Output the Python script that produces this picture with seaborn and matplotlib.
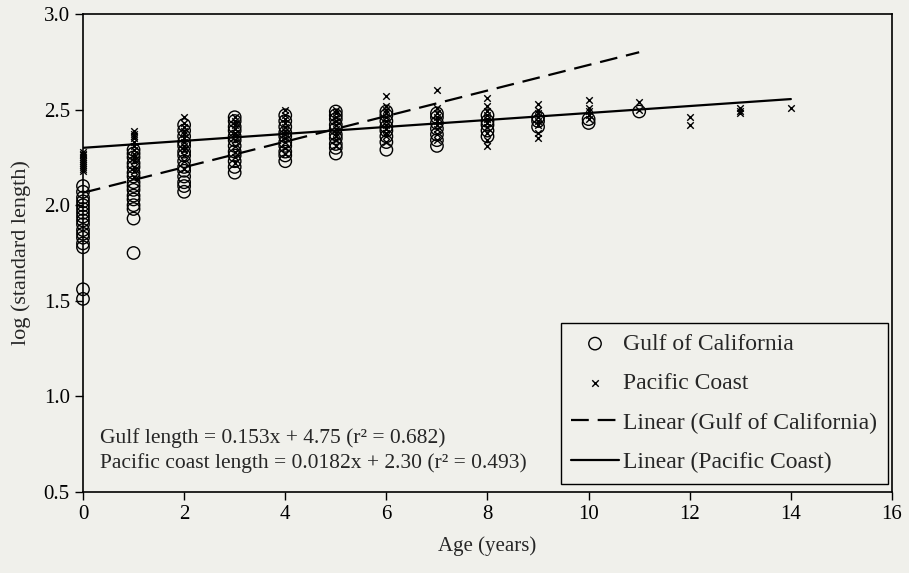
import pandas as pd
import matplotlib
matplotlib.use('Agg')
import matplotlib.pyplot as plt
import seaborn as sns

# log(standard length) by age
gulf_ages = [0, 1, 2, 3, 4, 5, 6, 7, 8, 9, 10, 11]
gulf_logsl = [
    [1.51, 1.56, 1.78, 1.80, 1.83, 1.85, 1.87, 1.90, 1.92, 1.94, 1.96, 1.98, 2.00, 2.02, 2.04, 2.07, 2.10],
    [1.75, 1.93, 1.98, 2.00, 2.03, 2.05, 2.08, 2.10, 2.12, 2.15, 2.17, 2.20, 2.22, 2.25, 2.27, 2.29],
    [2.07, 2.10, 2.12, 2.15, 2.18, 2.20, 2.23, 2.26, 2.28, 2.31, 2.33, 2.36, 2.39, 2.42],
    [2.17, 2.20, 2.23, 2.26, 2.28, 2.31, 2.34, 2.36, 2.39, 2.41, 2.44, 2.46],
    [2.23, 2.26, 2.28, 2.31, 2.33, 2.36, 2.38, 2.41, 2.44, 2.47],
    [2.27, 2.30, 2.32, 2.35, 2.37, 2.40, 2.42, 2.45, 2.47, 2.49],
    [2.29, 2.33, 2.36, 2.39, 2.41, 2.44, 2.47, 2.49],
    [2.31, 2.34, 2.37, 2.40, 2.43, 2.46, 2.48],
    [2.36, 2.39, 2.42, 2.44, 2.47],
    [2.41, 2.44, 2.46],
    [2.43, 2.45],
    [2.49],
]

pacific_ages = [0, 1, 2, 3, 4, 5, 6, 7, 8, 9, 10, 11, 12, 13, 14]
pacific_logsl = [
    [2.18, 2.19, 2.20, 2.21, 2.22, 2.23, 2.24, 2.25, 2.26, 2.27, 2.28],
    [2.15, 2.18, 2.20, 2.23, 2.25, 2.27, 2.29, 2.31, 2.33, 2.35, 2.36, 2.37, 2.39],
    [2.19, 2.23, 2.26, 2.29, 2.31, 2.33, 2.35, 2.37, 2.39, 2.41, 2.43, 2.46],
    [2.22, 2.25, 2.28, 2.31, 2.34, 2.36, 2.38, 2.40, 2.42, 2.44, 2.46],
    [2.27, 2.30, 2.33, 2.35, 2.37, 2.39, 2.41, 2.43, 2.45, 2.47, 2.50],
    [2.31, 2.34, 2.36, 2.38, 2.40, 2.42, 2.44, 2.46, 2.48, 2.50],
    [2.33, 2.36, 2.38, 2.40, 2.42, 2.44, 2.46, 2.48, 2.50, 2.52, 2.57],
    [2.34, 2.37, 2.40, 2.42, 2.44, 2.46, 2.48, 2.51, 2.60],
    [2.31, 2.34, 2.38, 2.41, 2.43, 2.45, 2.47, 2.49, 2.52, 2.56],
    [2.35, 2.38, 2.42, 2.44, 2.46, 2.48, 2.50, 2.53],
    [2.45, 2.47, 2.49, 2.51, 2.55],
    [2.50, 2.54],
    [2.42, 2.46],
    [2.48, 2.49, 2.51],
    [2.51],
]

# trend lines as drawn in the figure (end points)
gulf_fit_age = [0, 11]
gulf_fit_logsl = [2.065, 2.80]
pacific_fit_age = [0, 14]
pacific_fit_logsl = [2.30, 2.555]

eq_lines = ["Gulf length = 0.153x + 4.75 (r² = 0.682)",
            "Pacific coast length = 0.0182x + 2.30 (r² = 0.493)"]

gulf = pd.DataFrame([(a, v) for a, vals in zip(gulf_ages, gulf_logsl) for v in vals],
                    columns=['age', 'logsl'])
pacific = pd.DataFrame([(a, v) for a, vals in zip(pacific_ages, pacific_logsl) for v in vals],
                       columns=['age', 'logsl'])

bg = '#f0f0eb'
sns.set_style('ticks')
plt.rcParams['font.family'] = ['Liberation Serif', 'DejaVu Serif']

fig = plt.figure(figsize=(9.09, 5.73), dpi=100, facecolor=bg)
ax = fig.add_axes([0.0913, 0.1414, 0.8900, 0.8342])
ax.set_facecolor(bg)

sns.scatterplot(data=gulf, x='age', y='logsl', marker='o', s=80, facecolor='none',
                edgecolor='black', linewidth=1.0, label='Gulf of California',
                clip_on=False, zorder=3, ax=ax)
sns.scatterplot(data=pacific, x='age', y='logsl', marker='x', s=22, color='black',
                linewidth=1.0, label='Pacific Coast', clip_on=False, zorder=3, ax=ax)
sns.lineplot(x=gulf_fit_age, y=gulf_fit_logsl, color='black', lw=1.6,
             linestyle=(0, (8, 4)), label='Linear (Gulf of California)', ax=ax)
sns.lineplot(x=pacific_fit_age, y=pacific_fit_logsl, color='black', lw=1.6,
             label='Linear (Pacific Coast)', ax=ax)

ax.set_xlim(0, 16)
ax.set_ylim(0.5, 3.0)
ax.set_xticks(range(0, 17, 2))
ax.set_yticks([0.5, 1.0, 1.5, 2.0, 2.5, 3.0])
ax.set_yticklabels(['0.5', '1.0', '1.5', '2.0', '2.5', '3.0'])
ax.tick_params(direction='out', length=6, width=1, labelsize=15, colors='black')
for sp in ax.spines.values():
    sp.set_visible(True)
    sp.set_color('black')
    sp.set_linewidth(1.2)

ax.set_xlabel('Age (years)', fontsize=15, labelpad=9)
ax.set_ylabel('log (standard length)', fontsize=16, labelpad=9)

ax.text(0.021, 0.113, eq_lines[0], transform=ax.transAxes, fontsize=15.5, va='center')
ax.text(0.021, 0.060, eq_lines[1], transform=ax.transAxes, fontsize=15.5, va='center')

leg = ax.legend(loc='lower right', bbox_to_anchor=(0.995, 0.017), fontsize=17,
                frameon=True, fancybox=False, edgecolor='black', facecolor=bg,
                framealpha=1, labelspacing=0.76, handlelength=2.0,
                handletextpad=0.2, borderpad=0.45, borderaxespad=0)
leg.get_frame().set_linewidth(1.0)

fig.savefig('out.png', dpi=100, facecolor=bg)
